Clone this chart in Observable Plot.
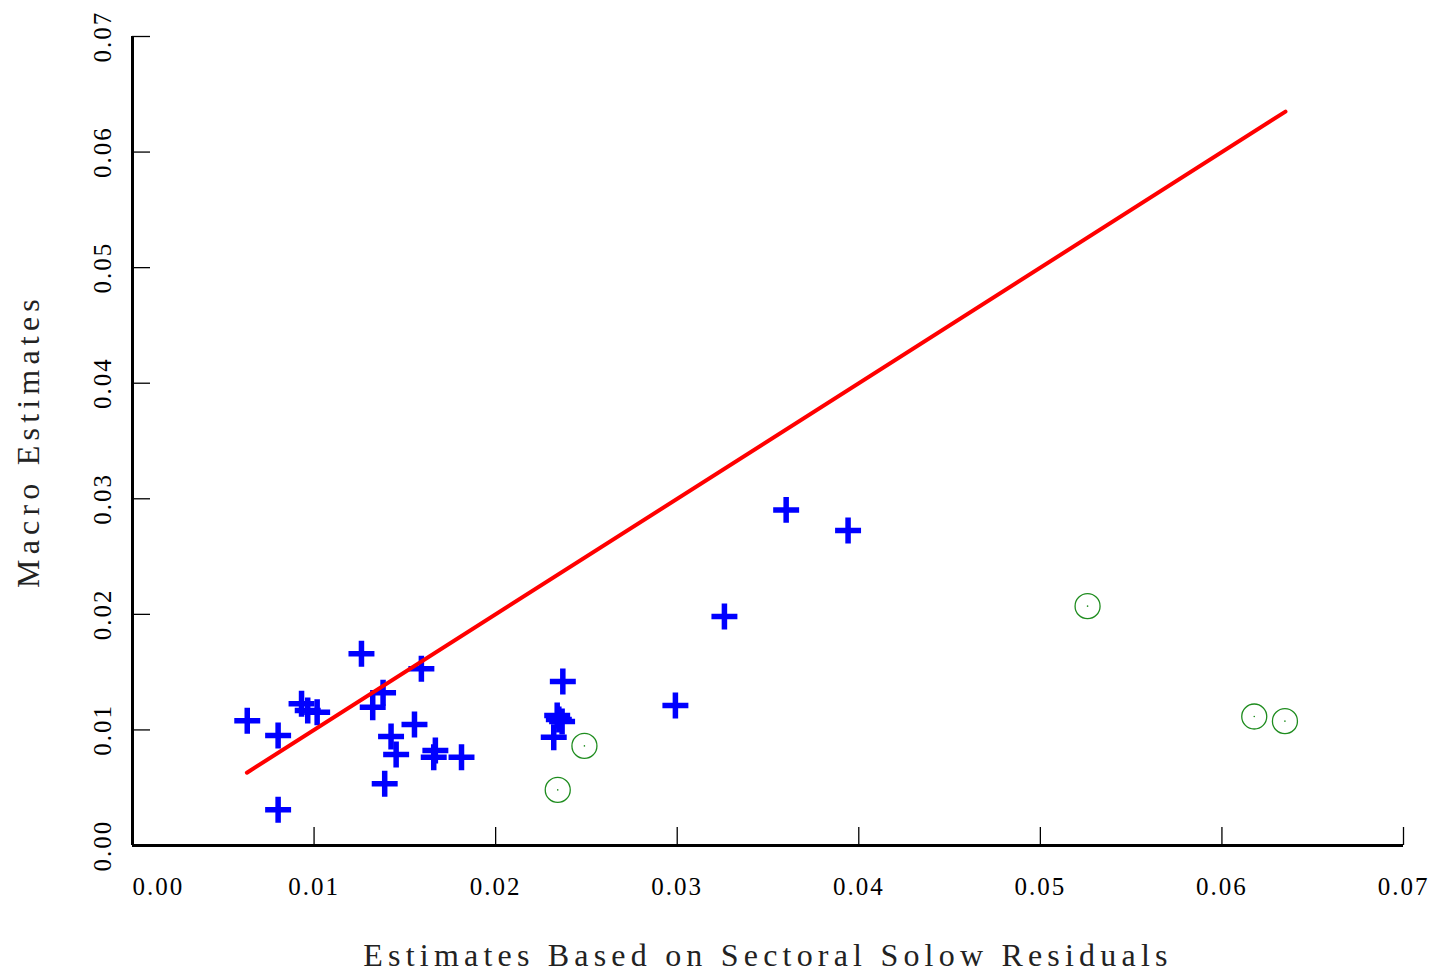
<!DOCTYPE html>
<html>
<head>
<meta charset="utf-8">
<script src="https://cdn.jsdelivr.net/npm/d3@7"></script>
<script src="https://cdn.jsdelivr.net/npm/@observablehq/plot@0.6"></script>
<style>
  html, body { margin: 0; padding: 0; background: #fff; }
  #chart svg { display: block; }
</style>
</head>
<body>
<div id="chart"></div>
<script>
// Sector-based (x) vs macro (y) estimates
const crossX = [0.00632, 0.00802, 0.00802, 0.00931, 0.00965, 0.01017, 0.01261, 0.01323, 0.0138,
                0.01591, 0.01553, 0.01424, 0.01452, 0.01389, 0.01668, 0.01659, 0.01812,
                0.0237, 0.02348, 0.02339, 0.02366, 0.0232, 0.0299, 0.0326, 0.036, 0.03941];
const crossY = [0.0108, 0.00952, 0.00309, 0.01226, 0.01168, 0.01153, 0.01659, 0.01197, 0.01321,
                0.01529, 0.01047, 0.00943, 0.00787, 0.00534, 0.00822, 0.00764, 0.00764,
                0.01419, 0.0109, 0.01125, 0.01073, 0.00937, 0.01211, 0.01981, 0.02904, 0.02726];
const circleX = [0.02489, 0.02342, 0.0526, 0.06178, 0.06347];
const circleY = [0.00862, 0.00481, 0.02071, 0.01116, 0.01076];
const lineX = [0.0063, 0.0635];
const lineY = [0.0063, 0.0635];
const xTicks = [0, 0.01, 0.02, 0.03, 0.04, 0.05, 0.06, 0.07];
const yTicks = [0, 0.01, 0.02, 0.03, 0.04, 0.05, 0.06, 0.07];
const xLabel = "Estimates Based on Sectoral Solow Residuals";
const yLabel = "Macro Estimates";

const crosses = crossX.map((x, i) => ({x, y: crossY[i]}));
const circles = circleX.map((x, i) => ({x, y: circleY[i]}));
const line = lineX.map((x, i) => ({x, y: lineY[i]}));
const fmt = d3.format(".2f");
const green = "#1e8c1e";
const font = "Liberation Serif";

const chart = Plot.plot({
  width: 1438,
  height: 976,
  marginLeft: 132,
  marginRight: 35,
  marginTop: 36,
  marginBottom: 131,
  style: {fontFamily: font, background: "#fff", color: "#000"},
  x: {domain: [0, 0.07], axis: null},
  y: {domain: [0, 0.07], axis: null},
  marks: [
    Plot.axisX(xTicks, {tickSize: -18, tickFormat: () => "", label: null, strokeWidth: 1.3, anchor: "bottom"}),
    Plot.axisY(yTicks, {tickSize: -18, tickFormat: () => "", label: null, strokeWidth: 1.3, anchor: "left"}),
    Plot.ruleY([0], {strokeWidth: 3}),
    Plot.ruleX([0], {strokeWidth: 3}),
    Plot.text(xTicks.slice(0, 1), {x: d => d, frameAnchor: "bottom", dy: 41, text: d => fmt(d),
      textAnchor: "start", lineAnchor: "middle", fontSize: 25, fill: "#000"}),
    Plot.text(xTicks.slice(1), {x: d => d, frameAnchor: "bottom", dy: 41, text: d => fmt(d),
      textAnchor: "middle", lineAnchor: "middle", fontSize: 25, fill: "#000"}),
    Plot.text(yTicks, {y: d => d, frameAnchor: "left", dx: -30, rotate: -90, text: d => fmt(d),
      textAnchor: "middle", lineAnchor: "middle", fontSize: 25, fill: "#000"}),
    Plot.text([xLabel], {frameAnchor: "bottom", dy: 110, text: d => d, textAnchor: "middle",
      lineAnchor: "middle", fontSize: 32, fill: "#222"}),
    Plot.text([yLabel], {frameAnchor: "left", dx: -104, rotate: -90, text: d => d, textAnchor: "middle",
      lineAnchor: "middle", fontSize: 32, fill: "#222"}),
    Plot.dot(circles, {x: "x", y: "y", r: 12.5, stroke: green, strokeWidth: 1.3, fill: "none"}),
    Plot.dot(circles, {x: "x", y: "y", r: 0.8, fill: green, stroke: "none"}),
    Plot.dot(crosses, {x: "x", y: "y", symbol: "plus", r: 8.4, stroke: "#0000ff", strokeWidth: 5.5, strokeLinecap: "butt"}),
    Plot.line(line, {x: "x", y: "y", stroke: "#ff0000", strokeWidth: 4, strokeLinecap: "round"})
  ]
});
d3.select(chart).selectAll("text").style("letter-spacing", "2px");
d3.select(chart).selectAll("text").filter(function() { return this.textContent.length > 10; })
  .style("letter-spacing", "5.2px");
document.getElementById("chart").appendChild(chart);
</script>
</body>
</html>
